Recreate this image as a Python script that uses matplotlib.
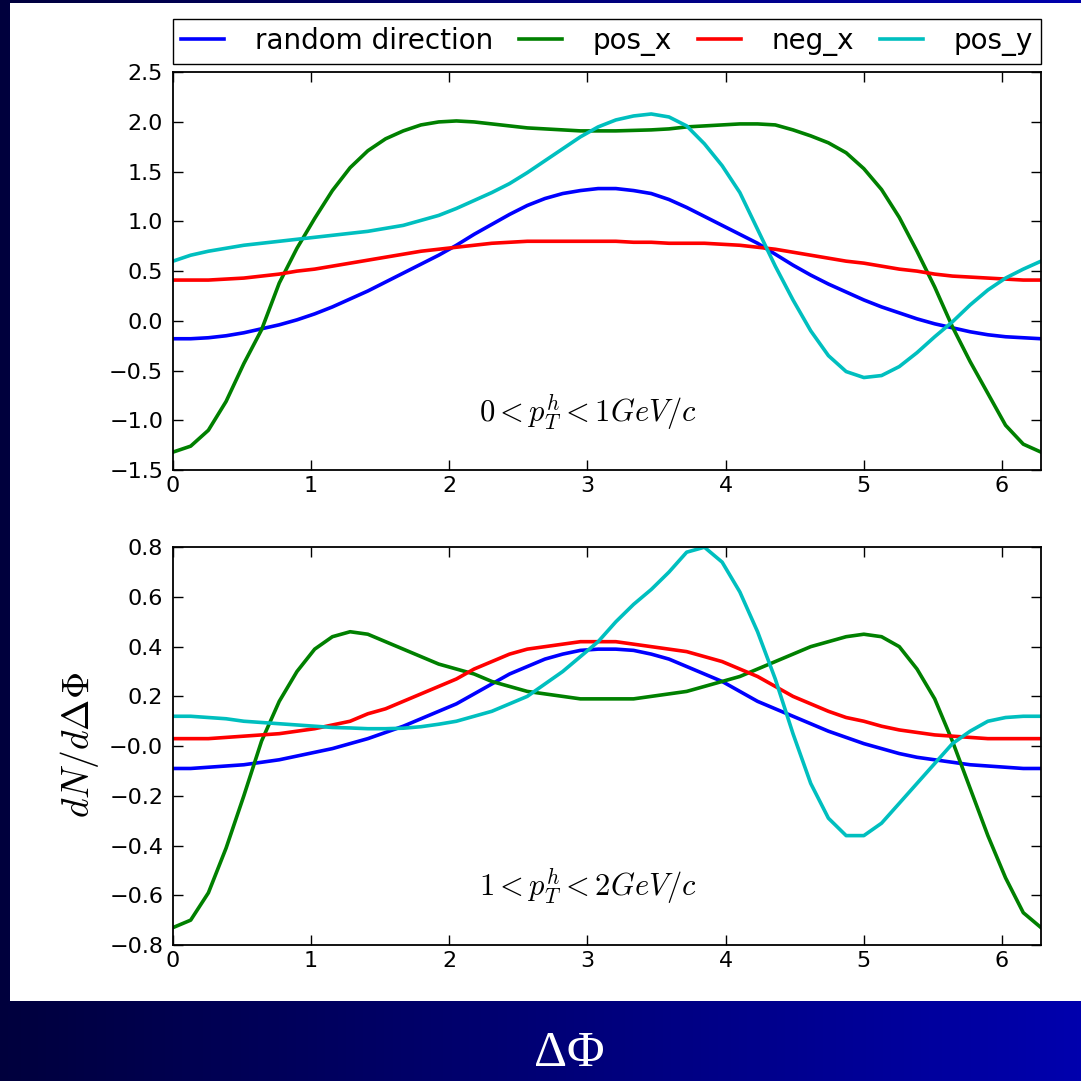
#!/usr/bin/env python3

import numpy as np
import matplotlib
matplotlib.use("Agg")
from matplotlib import pyplot as plt
from matplotlib.patches import Rectangle
from matplotlib.colors import LinearSegmentedColormap
from matplotlib.ticker import FuncFormatter

# sample positions in delta phi (50 samples over one period)
dphi = np.linspace(0, 2 * np.pi, 50)

labels = ["random direction", "pos_x", "neg_x", "pos_y"]
colors = ["b", "g", "r", "c"]

# 0 < pT < 1 GeV/c
low_random = [-0.18, -0.18, -0.17, -0.15, -0.12, -0.08, -0.04, 0.01, 0.07, 0.14,
              0.22, 0.30, 0.39, 0.48, 0.57, 0.66, 0.76, 0.87, 0.97, 1.07,
              1.16, 1.23, 1.28, 1.31, 1.33, 1.33, 1.31, 1.28, 1.22, 1.14,
              1.05, 0.96, 0.87, 0.78, 0.67, 0.56, 0.46, 0.37, 0.29, 0.21,
              0.14, 0.08, 0.02, -0.03, -0.07, -0.11, -0.14, -0.16, -0.17, -0.18]
low_pos_x = [-1.32, -1.26, -1.10, -0.81, -0.43, -0.09, 0.38, 0.73, 1.03, 1.31,
             1.54, 1.71, 1.83, 1.91, 1.97, 2.00, 2.01, 2.00, 1.98, 1.96,
             1.94, 1.93, 1.92, 1.91, 1.91, 1.91, 1.915, 1.92, 1.93, 1.95,
             1.96, 1.97, 1.98, 1.98, 1.97, 1.92, 1.86, 1.79, 1.69, 1.53,
             1.32, 1.04, 0.70, 0.34, -0.06, -0.41, -0.73, -1.05, -1.24, -1.32]
low_neg_x = [0.41, 0.41, 0.41, 0.42, 0.43, 0.45, 0.47, 0.50, 0.52, 0.55,
             0.58, 0.61, 0.64, 0.67, 0.70, 0.72, 0.74, 0.76, 0.78, 0.79,
             0.80, 0.80, 0.80, 0.80, 0.80, 0.80, 0.79, 0.79, 0.78, 0.78,
             0.78, 0.77, 0.76, 0.74, 0.72, 0.69, 0.66, 0.63, 0.60, 0.58,
             0.55, 0.52, 0.50, 0.47, 0.45, 0.44, 0.43, 0.42, 0.41, 0.41]
low_pos_y = [0.60, 0.66, 0.70, 0.73, 0.76, 0.78, 0.80, 0.82, 0.84, 0.86,
             0.88, 0.90, 0.93, 0.96, 1.01, 1.06, 1.13, 1.21, 1.29, 1.38,
             1.49, 1.61, 1.73, 1.85, 1.95, 2.02, 2.06, 2.08, 2.05, 1.96,
             1.78, 1.56, 1.29, 0.92, 0.55, 0.21, -0.10, -0.35, -0.51, -0.57,
             -0.55, -0.46, -0.32, -0.16, -0.01, 0.16, 0.31, 0.43, 0.52, 0.60]

# 1 < pT < 2 GeV/c
high_random = [-0.09, -0.09, -0.085, -0.08, -0.075, -0.065, -0.055, -0.04, -0.025, -0.01,
               0.01, 0.03, 0.055, 0.08, 0.11, 0.14, 0.17, 0.21, 0.25, 0.29,
               0.32, 0.35, 0.37, 0.385, 0.39, 0.39, 0.385, 0.37, 0.35, 0.32,
               0.29, 0.26, 0.22, 0.18, 0.15, 0.12, 0.09, 0.06, 0.035, 0.01,
               -0.01, -0.03, -0.045, -0.055, -0.065, -0.075, -0.08, -0.085, -0.09, -0.09]
high_pos_x = [-0.73, -0.70, -0.59, -0.41, -0.20, 0.02, 0.18, 0.30, 0.39, 0.44,
              0.46, 0.45, 0.42, 0.39, 0.36, 0.33, 0.31, 0.29, 0.26, 0.24,
              0.22, 0.21, 0.20, 0.19, 0.19, 0.19, 0.19, 0.20, 0.21, 0.22,
              0.24, 0.26, 0.28, 0.31, 0.34, 0.37, 0.40, 0.42, 0.44, 0.45,
              0.44, 0.40, 0.31, 0.19, 0.02, -0.17, -0.36, -0.53, -0.67, -0.73]
high_neg_x = [0.03, 0.03, 0.03, 0.035, 0.04, 0.045, 0.05, 0.06, 0.07, 0.085,
              0.10, 0.13, 0.15, 0.18, 0.21, 0.24, 0.27, 0.31, 0.34, 0.37,
              0.39, 0.40, 0.41, 0.42, 0.42, 0.42, 0.41, 0.40, 0.39, 0.38,
              0.36, 0.34, 0.31, 0.28, 0.24, 0.20, 0.17, 0.14, 0.115, 0.10,
              0.08, 0.065, 0.055, 0.045, 0.04, 0.035, 0.03, 0.03, 0.03, 0.03]
high_pos_y = [0.12, 0.12, 0.115, 0.11, 0.10, 0.095, 0.09, 0.085, 0.08, 0.075,
              0.073, 0.07, 0.07, 0.072, 0.078, 0.088, 0.10, 0.12, 0.14, 0.17,
              0.20, 0.25, 0.30, 0.36, 0.42, 0.50, 0.57, 0.63, 0.70, 0.78,
              0.80, 0.74, 0.62, 0.46, 0.27, 0.05, -0.15, -0.29, -0.36, -0.36,
              -0.31, -0.23, -0.15, -0.07, 0.01, 0.06, 0.10, 0.115, 0.12, 0.12]

panels = [
    ([low_random, low_pos_x, low_neg_x, low_pos_y], (-1.5, 2.5), 0.5,
     r"$0 < p_T^h < 1 GeV/c$", -0.92),
    ([high_random, high_pos_x, high_neg_x, high_pos_y], (-0.8, 0.8), 0.2,
     r"$1 < p_T^h < 2 GeV/c$", -0.563),
]


def minus_fmt(v, pos):
    return f"{v:.1f}".replace("-", "\u2212")


def main():
    plt.rcParams["mathtext.fontset"] = "cm"
    fig = plt.figure(figsize=(10.81, 10.81), dpi=100)

    # slide background: dark-to-blue horizontal gradient with white panel
    bg = fig.add_axes([0, 0, 1, 1], zorder=-10)
    grad = np.linspace(0, 1, 256)[None, :]
    cmap = LinearSegmentedColormap.from_list("slide", [(0, 0, 0.24), (0, 0, 0.68)])
    bg.imshow(grad, aspect="auto", cmap=cmap, extent=[0, 1, 0, 1])
    bg.add_patch(Rectangle((10 / 1081, 1 - 1001 / 1081), 1.0, 998 / 1081,
                           facecolor="white", edgecolor="none"))
    bg.set_xlim(0, 1)
    bg.set_ylim(0, 1)
    bg.axis("off")

    left, width, height = 0.160, 0.803, 0.368
    bottoms = [0.5652, 0.1258]
    for i, ((series, ylim, step, note, note_y), b) in enumerate(zip(panels, bottoms)):
        ax = fig.add_axes([left, b, width, height])
        for vals, lab, col in zip(series, labels, colors):
            ax.plot(dphi, vals, color=col, lw=2.6, label=lab)
        ax.set_xlim(0, 2 * np.pi)
        ax.set_ylim(*ylim)
        ax.set_yticks(np.arange(ylim[0], ylim[1] + step / 2, step))
        ax.set_xticks(range(7))
        ax.yaxis.set_major_formatter(FuncFormatter(minus_fmt))
        ax.tick_params(direction="in", top=True, right=True, length=7,
                       width=1, labelsize=16)
        ax.tick_params(axis="y", pad=7)
        ax.tick_params(axis="x", pad=4)
        for sp in ax.spines.values():
            sp.set_linewidth(1.3)
        ax.text(3.0, note_y, note, ha="center", va="center", fontsize=22)
        if i == 0:
            ax.legend(loc="lower left", bbox_to_anchor=(0, 1.02, 1, 0.123),
                      mode="expand", ncol=4, borderaxespad=0, fontsize=20,
                      fancybox=False, edgecolor="black", framealpha=1,
                      handlelength=1.55, handletextpad=1.1, borderpad=0.3,
                      columnspacing=1.0)

    fig.text(0.074, 0.311, r"$dN/d\Delta\Phi$", rotation=90, fontsize=27,
             ha="center", va="center")
    fig.text(0.527, 0.025, "ΔΦ", color="white", fontsize=37,
             family="Liberation Serif", ha="center", va="center")

    fig.savefig("out.png", dpi=100)


if __name__ == '__main__':
    main()
